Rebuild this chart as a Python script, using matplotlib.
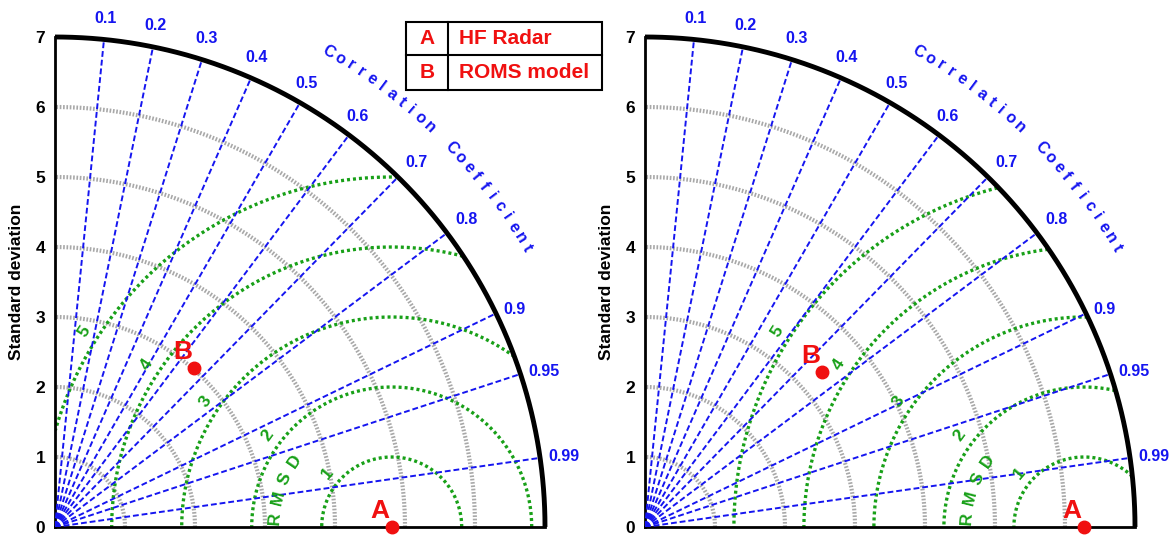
import numpy as np
import matplotlib
matplotlib.use('Agg')
import matplotlib.pyplot as plt
from matplotlib.patches import Rectangle

plt.rcParams['font.family'] = ['Liberation Sans', 'DejaVu Sans']

# values
ref_std = [4.81, 6.27]        # A: HF Radar (observation) std, left / right
model_std = [3.02, 3.37]      # B: ROMS model std
model_corr = [0.659, 0.752]   # B: correlation with HF Radar
std_max = 7
std_arcs = [1, 2, 3, 4, 5, 6]
corr_ticks = [0.1, 0.2, 0.3, 0.4, 0.5, 0.6, 0.7, 0.8, 0.9, 0.95, 0.99]
rmsd_levels = [1, 2, 3, 4, 5]
rmsd_label_ang = [140, 143.5, 146, 146.5, 147.5]
legend_keys = ['A', 'B']
legend_names = ['HF Radar', 'ROMS model']

BLUE = '#1515f0'
GREEN = '#18a018'
GRAY = '#a8a8a8'
RED = '#f01010'

fig = plt.figure(figsize=(11.73, 5.39), dpi=100)
W, H = 1173, 539
origins = [(55, 527), (645, 527)]
pxu = 70.0


def taylor(ax, ref, sd, cc):
    ax.set_xlim(0, std_max)
    ax.set_ylim(0, std_max)
    for s in ['top', 'right']:
        ax.spines[s].set_visible(False)
    for s in ['left', 'bottom']:
        ax.spines[s].set_linewidth(2)
    ax.set_xticks([])
    ax.set_yticks(range(std_max + 1))
    ax.tick_params(axis='y', length=0, pad=7, labelsize=12.5)
    for lab in ax.get_yticklabels():
        lab.set_fontweight('bold')
    ax.set_ylabel('Standard deviation', fontsize=12.5, fontweight='bold', labelpad=8)

    th = np.linspace(0, np.pi / 2, 400)
    # std arcs
    for r in std_arcs:
        ax.plot(r * np.cos(th), r * np.sin(th), color=GRAY, lw=3,
                ls=(0, (0.4, 0.4)), zorder=1)
    # rmsd arcs around the reference
    t2 = np.linspace(0, np.pi, 800)
    for r in rmsd_levels:
        x = ref + r * np.cos(t2)
        y = r * np.sin(t2)
        m = (x >= 0) & (x ** 2 + y ** 2 <= std_max ** 2)
        x = np.where(m, x, np.nan)
        y = np.where(m, y, np.nan)
        ax.plot(x, y, color=GREEN, lw=2.4, ls=(0, (0.9, 0.9)), zorder=2)
    for r, a in zip(rmsd_levels, rmsd_label_ang):
        ar = np.deg2rad(a)
        ax.text(ref + (r + 0.2) * np.cos(ar), (r + 0.2) * np.sin(ar), str(r),
                color=GREEN, fontsize=12.5, fontweight='bold', rotation=a - 90,
                ha='center', va='center', zorder=4)
    for i, ch in enumerate('RMSD'):
        a = 175.7 - i * 10
        ar = np.deg2rad(a)
        ax.text(ref + 1.67 * np.cos(ar), 1.67 * np.sin(ar), ch,
                color=GREEN, fontsize=12.5, fontweight='bold', rotation=a - 90,
                ha='center', va='center', zorder=4)
    # correlation rays
    for c in corr_ticks:
        a = np.arccos(c)
        ax.plot([0, std_max * c], [0, std_max * np.sin(a)], color=BLUE, lw=1.4,
                ls=(0, (3, 1.5)), zorder=3)
        deg = np.rad2deg(a)
        if deg < 30:
            ha, va, rr = 'left', 'center', 7.12
        elif deg < 50:
            ha, va, rr = 'left', 'bottom', 7.15
        else:
            ha, va, rr = 'center', 'bottom', 7.2
        ax.text(rr * c, rr * np.sin(a), f'{c:g}', color=BLUE, fontsize=11.5,
                fontweight='bold', ha=ha, va=va, clip_on=False)
    # outer arc
    ax.plot(std_max * np.cos(th), std_max * np.sin(th), color='black', lw=3.5,
            zorder=4, clip_on=False, solid_capstyle='butt')
    # curved title
    ang = 60.0
    for ch in 'Correlation Coefficient':
        if ch == ' ':
            ang -= 1.9
            continue
        ar = np.deg2rad(ang)
        ax.text(7.83 * np.cos(ar), 7.83 * np.sin(ar), ch, color=BLUE, fontsize=11.5,
                fontweight='bold', rotation=ang - 90, ha='center', va='center',
                clip_on=False)
        ang -= 1.31
    # points
    bx = sd * cc
    by = sd * np.sin(np.arccos(cc))
    for (px, py), lab in zip([(ref, 0), (bx, by)], legend_keys):
        ax.plot(px, py, 'o', color=RED, ms=9, zorder=6, clip_on=False)
        ax.annotate(lab, (px, py), xytext=(-8.6, 11.5), textcoords='offset points',
                    color=RED, fontsize=19, fontweight='bold', ha='center',
                    va='center', zorder=6, annotation_clip=False)


for k, (ox, oy) in enumerate(origins):
    ax = fig.add_axes([ox / W, (H - oy) / H, std_max * pxu / W, std_max * pxu / H])
    taylor(ax, ref_std[k], model_std[k], model_corr[k])
    if k == 0:
        # legend table (in pixel -> data units of left panel)
        def d(px, py):
            return (px - ox) / pxu, (oy - py) / pxu
        x0, y1 = d(406, 22)
        x1, y0 = d(602, 90)
        xm, ym = d(448, 55)
        ax.add_patch(Rectangle((x0, y0), x1 - x0, y1 - y0, fill=False, lw=1.5,
                               ec='black', clip_on=False, zorder=7))
        ax.plot([x0, x1], [ym, ym], color='black', lw=1.5, clip_on=False, zorder=7)
        ax.plot([xm, xm], [y0, y1], color='black', lw=1.5, clip_on=False, zorder=7)
        for i, (key, name) in enumerate(zip(legend_keys, legend_names)):
            yc = (y1 + ym) / 2 if i == 0 else (ym + y0) / 2
            ax.text((x0 + xm) / 2, yc, key, color=RED, fontsize=15,
                    fontweight='bold', ha='center', va='center', clip_on=False)
            ax.text(xm + 11 / pxu, yc, name, color=RED, fontsize=15,
                    fontweight='bold', ha='left', va='center', clip_on=False)

fig.savefig('out.png', dpi=100)
